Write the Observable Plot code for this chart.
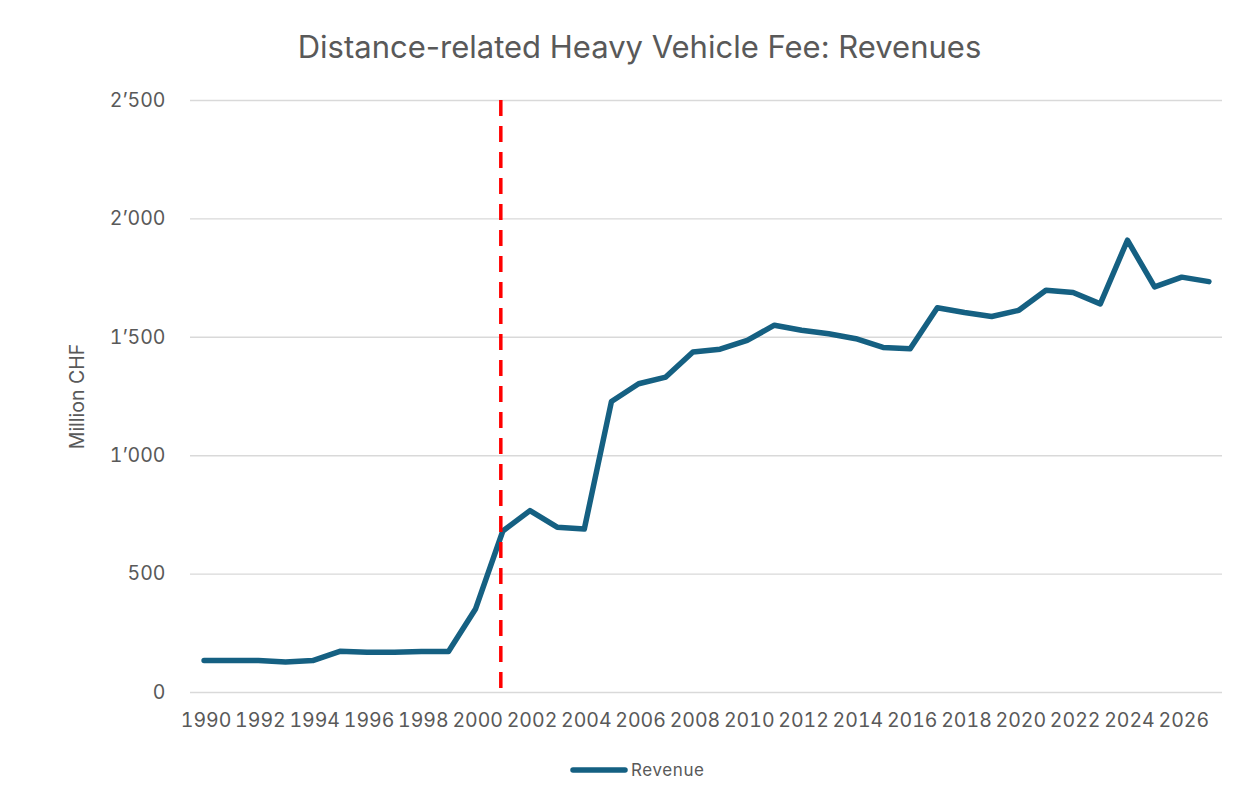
<!DOCTYPE html>
<html>
<head>
<meta charset="utf-8">
<script src="https://cdn.jsdelivr.net/npm/d3@7"></script>
<script src="https://cdn.jsdelivr.net/npm/@observablehq/plot@0.6"></script>
<style>
  body { margin: 0; background: #fff; font-family: Inter, Roboto, "Liberation Sans", sans-serif; }
  #wrap { position: relative; width: 1249px; height: 802px; overflow: hidden; }
  #title { position: absolute; top: 28px; left: 30px; width: 1219px; text-align: center; font-size: 31px; color: #595959; line-height: 38px; }
  #chart { position: absolute; top: 80px; left: 0; }
  #legend { position: absolute; top: 759px; left: 570px; display: flex; align-items: center; font-size: 17px; color: #595959; line-height: 22px; letter-spacing: 0.6px; }
  #legend svg { display: block; margin-right: 3px; }
</style>
</head>
<body>
<div id="wrap">
  <div id="title"></div>
  <div id="chart"></div>
  <div id="legend"></div>
</div>
<script>
const titleText = "Distance-related Heavy Vehicle Fee: Revenues";
const yLabel = "Million CHF";
const seriesName = "Revenue";
const years = [1990,1991,1992,1993,1994,1995,1996,1997,1998,1999,2000,2001,2002,2003,2004,2005,2006,2007,2008,2009,2010,2011,2012,2013,2014,2015,2016,2017,2018,2019,2020,2021,2022,2023,2024,2025,2026,2027];
const revenue = [135,135,135,129,135,174,170,170,173,173,354,682,768,698,690,1229,1304,1332,1438,1450,1487,1551,1530,1515,1494,1457,1452,1625,1605,1588,1614,1699,1689,1641,1910,1713,1754,1735];
const xTickYears = [1990,1992,1994,1996,1998,2000,2002,2004,2006,2008,2010,2012,2014,2016,2018,2020,2022,2024,2026];
const yTicks = [0,500,1000,1500,2000,2500];
const markerYear = [2001];

const data = years.map((y, i) => ({year: y, value: revenue[i]}));
const fmt = d3.formatLocale({decimal: ".", thousands: "\u2019", grouping: [3], currency: ["", ""]}).format(",");

document.getElementById("title").textContent = titleText;

const lineColor = "#156082";
const textColor = "#595959";

const chart = Plot.plot({
  width: 1249,
  height: 662,
  marginLeft: 190,
  marginRight: 27,
  marginTop: 20,
  marginBottom: 50,
  style: { fontFamily: "Inter, Roboto, 'Liberation Sans', sans-serif", fontSize: "21px", color: textColor, background: "transparent" },
  x: { type: "linear", domain: [years[0] - 0.5, years[years.length - 1] + 0.5] },
  y: { domain: [0, 2500] },
  marks: [
    Plot.gridY(yTicks, { stroke: "#D9D9D9", strokeOpacity: 1, strokeWidth: 1.4 }),
    Plot.axisX(xTickYears, { tickSize: 0, tickPadding: 21, tickFormat: d => String(d), label: null, fill: textColor, fontSize: 19.5, dx: 2 }),
    Plot.axisY(yTicks, { tickSize: 0, tickPadding: 25, tickFormat: fmt, label: yLabel, labelAnchor: "center", labelOffset: 120, labelArrow: "none", fill: textColor, fontSize: 19.5 }),
    Plot.line(data, { x: "year", y: "value", stroke: lineColor, strokeWidth: 5.5, strokeLinejoin: "round", strokeLinecap: "round" }),
    Plot.ruleX(markerYear, { y1: 2500, y2: 0, stroke: "#FF0000", strokeWidth: 3.5, strokeDasharray: "16,10", dx: -2 })
  ]
});
document.getElementById("chart").appendChild(chart);

const legend = document.getElementById("legend");
const ns = "http://www.w3.org/2000/svg";
const sw = document.createElementNS(ns, "svg");
sw.setAttribute("width", "58");
sw.setAttribute("height", "14");
const ln = document.createElementNS(ns, "line");
ln.setAttribute("x1", "3"); ln.setAttribute("x2", "55");
ln.setAttribute("y1", "7"); ln.setAttribute("y2", "7");
ln.setAttribute("stroke", lineColor);
ln.setAttribute("stroke-width", "5.5");
ln.setAttribute("stroke-linecap", "round");
sw.appendChild(ln);
legend.appendChild(sw);
const lt = document.createElement("span");
lt.textContent = seriesName;
legend.appendChild(lt);
</script>
</body>
</html>
